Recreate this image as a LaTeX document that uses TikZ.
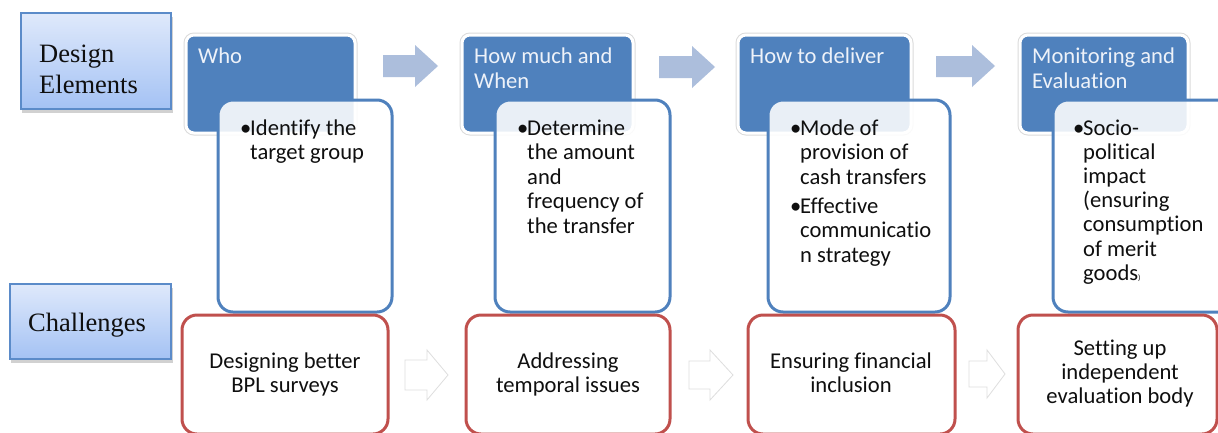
\documentclass[tikz,border=0pt]{standalone}
\usepackage{fontspec}
\setmainfont{Carlito}[Ligatures={NoCommon}]
\newfontfamily\labserif{Liberation Serif}
\usetikzlibrary{calc}
\definecolor{hdrblue}{RGB}{79,129,189}
\definecolor{redb}{RGB}{192,80,77}
\definecolor{arrblue}{RGB}{172,190,220}
\definecolor{gradtop}{RGB}{223,233,251}
\definecolor{gradbot}{RGB}{164,194,244}
\definecolor{lblborder}{RGB}{91,139,201}
\definecolor{hdrtext}{RGB}{238,242,249}
\definecolor{txtdark}{RGB}{15,15,15}
\newcommand{\bu}{\makebox[10pt][l]{•}}
\begin{document}
\begin{tikzpicture}[x=1pt,y=-1pt,
  lbl/.style={rectangle, draw=lblborder, line width=1.5pt, top color=gradtop, bottom color=gradbot, inner sep=0pt, outer sep=0pt, anchor=north west},
  lblshadow/.style={fill=black!18},
  lbltext/.style={anchor=base west, inner sep=0pt, text=txtdark, font=\labserif\fontsize{26.5}{31}\selectfont},
  hdr/.style={rectangle, rounded corners=8pt, fill=hdrblue, draw=white, line width=3pt, preaction={draw=black!14, line width=5pt}, inner sep=0pt, outer sep=0pt, anchor=north west, minimum height=98},
  hdrtxt/.style={anchor=base west, inner sep=0pt, text=hdrtext, font=\fontsize{22.6}{25}\selectfont},
  inbox/.style={rectangle, rounded corners=15pt, fill=white, fill opacity=0.88, draw=hdrblue, draw opacity=1, line width=3pt, inner sep=0pt, outer sep=0pt, anchor=north west, minimum height=212},
  intxt/.style={anchor=base west, inner sep=0pt, text=txtdark, font=\fontsize{22.6}{24.5}\selectfont},
  redbox/.style={rectangle, rounded corners=15pt, fill=white, draw=redb, line width=3pt, inner sep=0pt, outer sep=0pt, anchor=north west, minimum height=119},
  redtxt/.style={anchor=base, inner sep=0pt, text=txtdark, font=\fontsize{22.6}{24}\selectfont},
  barrowfill/.style={fill=arrblue},
  harrowfill/.style={fill=white, draw=black!13, line width=0.8pt}
]
\useasboundingbox (0,0) rectangle (1218,432);
\fill[white] (0,0) rectangle (1218,432);

% row labels
\fill[lblshadow] (22,17) rectangle (173,113);
\node[lbl, minimum width=150, minimum height=96] (de) at (21,13) {};
\node[lbltext] (detxt) at (39,62) {\begin{tabular}[t]{@{}l@{}}Design\\Elements\end{tabular}};
\fill[lblshadow] (11,288) rectangle (173,363);
\node[lbl, minimum width=161, minimum height=75] (ch) at (10,284) {};
\node[lbltext] (chtxt) at (28,331) {Challenges};

% blue arrows (top row)
\fill[barrowfill] (383,55) -- (415,55) -- (415,45) -- (438,66) -- (415,87) -- (415,77) -- (383,77) -- cycle;
\fill[barrowfill] (659,56) -- (692,56) -- (692,46) -- (715,67) -- (692,88) -- (692,78) -- (659,78) -- cycle;
\fill[barrowfill] (936,56) -- (972,56) -- (972,45) -- (995,66) -- (972,87) -- (972,77) -- (936,77) -- cycle;

% hollow arrows (bottom row)
\filldraw[harrowfill] (405,360) -- (427,360) -- (427,350) -- (448,375) -- (427,400) -- (427,390) -- (405,390) -- cycle;
\filldraw[harrowfill] (689,361) -- (710,361) -- (710,350) -- (733,375) -- (710,400) -- (710,389) -- (689,389) -- cycle;
\filldraw[harrowfill] (969,361) -- (987,361) -- (987,350) -- (1005,374) -- (987,398) -- (987,387) -- (969,387) -- cycle;

% column 1
\node[hdr, minimum width=169] (h1) at (186,35) {};
\node[hdrtxt] (h1t) at (198,63) {Who};
\node[inbox, minimum width=174] (b1) at (218,100) {};
\node[intxt] (b1t) at (240,135) {\begin{tabular}[t]{@{}l@{}l@{}}\bu&Identify the\\&target group\end{tabular}};
\node[redbox, minimum width=206] (r1) at (182,315) {};
\node[redtxt] (r1t) at (285,368) {\begin{tabular}[t]{@{}c@{}}Designing better\\BPL surveys\end{tabular}};

% column 2
\node[hdr, minimum width=171] (h2) at (462,35) {};
\node[hdrtxt] (h2t) at (474,63) {\begin{tabular}[t]{@{}l@{}}How much and\\When\end{tabular}};
\node[inbox, minimum width=175] (b2) at (495,100) {};
\node[intxt] (b2t) at (517,135) {\begin{tabular}[t]{@{}l@{}l@{}}\bu&Determine\\&the amount\\&and\\&frequency of\\&the transfer\end{tabular}};
\node[redbox, minimum width=204] (r2) at (466,315) {};
\node[redtxt] (r2t) at (568,368) {\begin{tabular}[t]{@{}c@{}}Addressing\\temporal issues\end{tabular}};

% column 3
\node[hdr, minimum width=173] (h3) at (738,35) {};
\node[hdrtxt] (h3t) at (750,63) {How to deliver};
\node[inbox, minimum width=182] (b3) at (768,100) {};
\node[intxt] (b3t) at (790,135) {\begin{tabular}[t]{@{}l@{}l@{}}\bu&Mode of\\&provision of\\&cash transfers\\[4.5pt]\bu&Effective\\&communicatio\\&n strategy\end{tabular}};
\node[redbox, minimum width=207] (r3) at (748,315) {};
\node[redtxt] (r3t) at (851,368) {\begin{tabular}[t]{@{}c@{}}Ensuring financial\\inclusion\end{tabular}};

% column 4
\node[hdr, minimum width=168] (h4) at (1020,35) {};
\node[hdrtxt] (h4t) at (1032,63) {\begin{tabular}[t]{@{}l@{}}Monitoring and\\Evaluation\end{tabular}};
\node[inbox, minimum width=180] (b4) at (1053,100) {};
\node[intxt, font=\fontsize{22.6}{24.2}\selectfont] (b4t) at (1073,135) {\begin{tabular}[t]{@{}l@{}l@{}}\bu&Socio-\\&political\\&impact\\&(ensuring\\&consumption\\&of merit\\&goods{\fontsize{8}{8}\selectfont )}\end{tabular}};
\node[redbox, minimum width=199] (r4) at (1018,315) {};
\node[redtxt] (r4t) at (1120,355) {\begin{tabular}[t]{@{}c@{}}Setting up\\independent\\evaluation body\end{tabular}};
\end{tikzpicture}
\end{document}
